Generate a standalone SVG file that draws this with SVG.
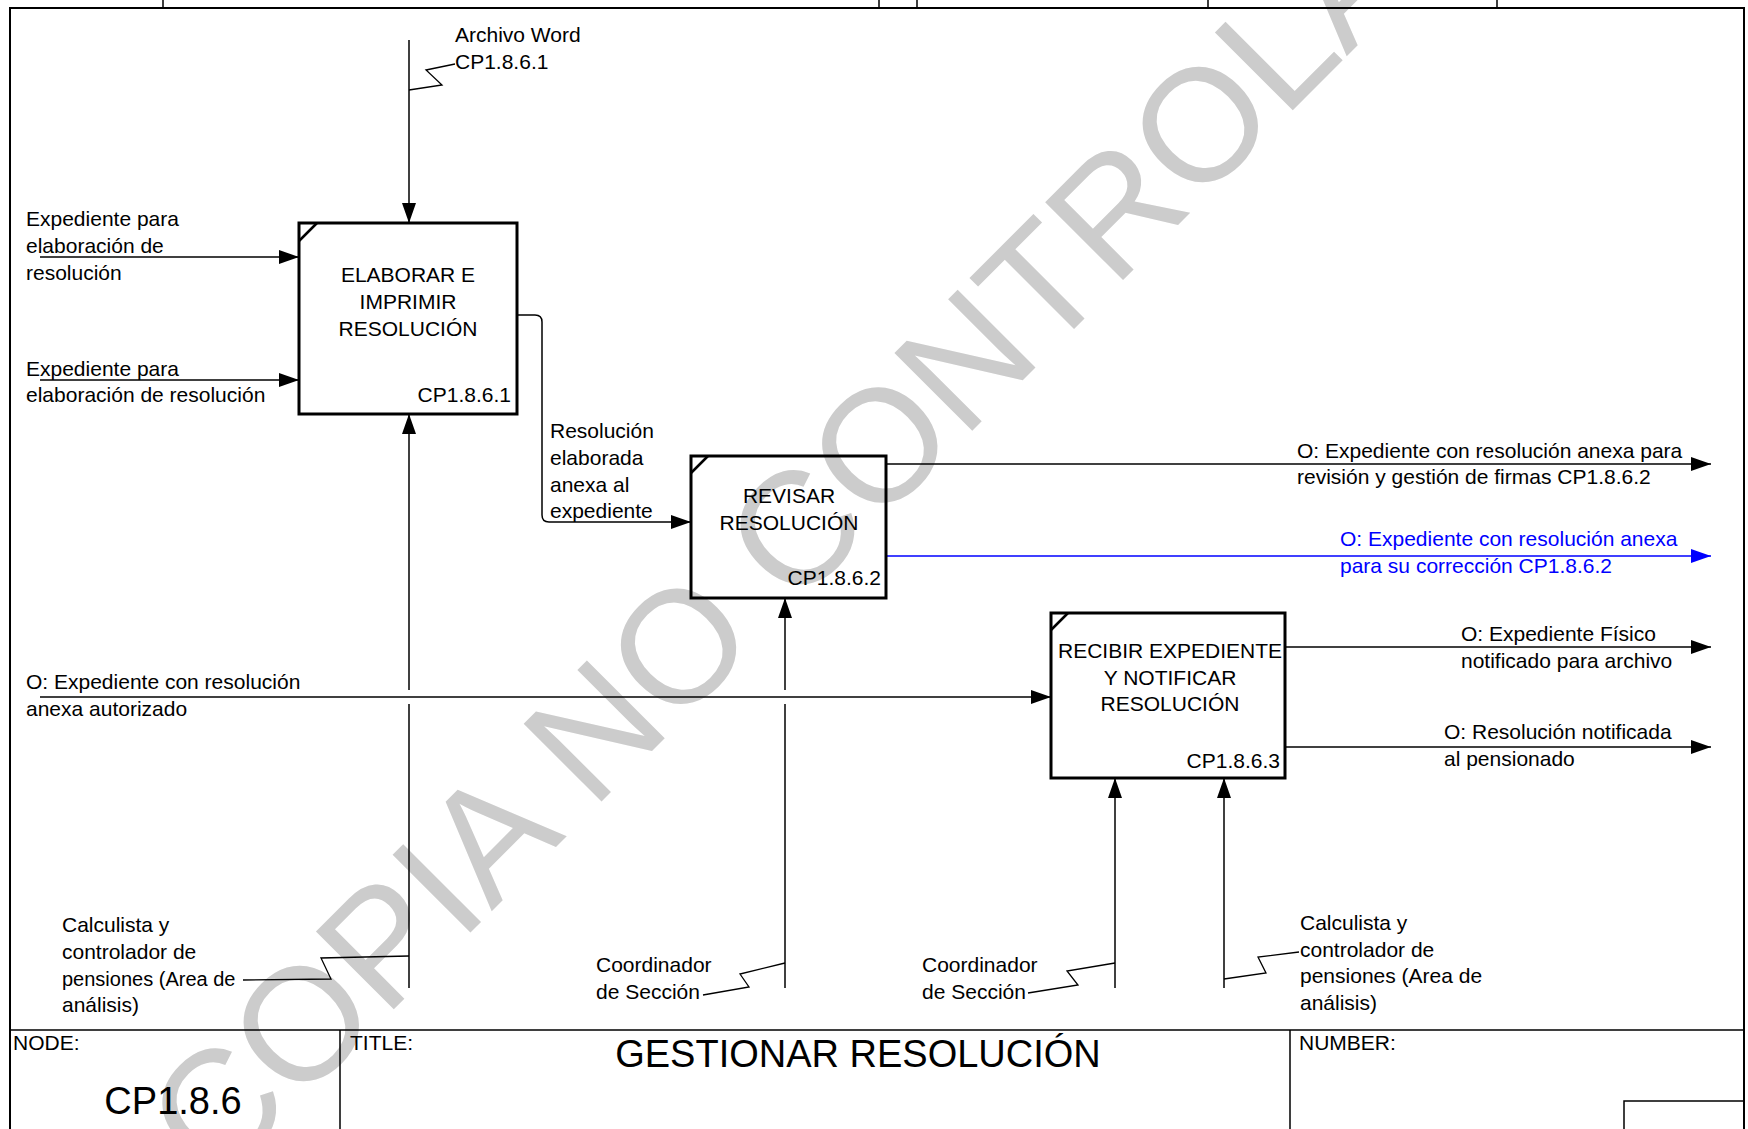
<svg xmlns="http://www.w3.org/2000/svg" width="1748" height="1129" viewBox="0 0 1748 1129">
<style>
text{font-family:"Liberation Sans",Arial,sans-serif;font-size:21px;fill:#000}
.c{text-anchor:middle}
.r{text-anchor:end}
.blue{fill:#0000ff}
.box{fill:none;stroke:#000;stroke-width:3}
.ln{fill:none;stroke:#000;stroke-width:1.5}
.bl{fill:none;stroke:#0000ff;stroke-width:1.5}
.sq{fill:none;stroke:#000;stroke-width:1.3}
.frame{fill:none;stroke:#000;stroke-width:2}
.wm{font-size:160px;fill:#cccccc}
</style>
<defs>
<marker id="ah" viewBox="0 0 20 14" refX="20" refY="7" markerWidth="20" markerHeight="14" orient="auto" markerUnits="userSpaceOnUse"><path d="M0,0 L20,7 L0,14 z" fill="#000"/></marker>
<marker id="ahb" viewBox="0 0 20 14" refX="20" refY="7" markerWidth="20" markerHeight="14" orient="auto" markerUnits="userSpaceOnUse"><path d="M0,0 L20,7 L0,14 z" fill="#0000ff"/></marker>
</defs>
<rect width="1748" height="1129" fill="#fff"/>
<text class="wm c" transform="translate(897,506) rotate(-45)">COPIA NO CONTROLADA</text>

<g id="frame">
<path class="frame" d="M10,1129 V8 H1744 V1129"/>
<path class="ln" d="M163,0 V8 M879,0 V8 M917,0 V8 M1208,0 V8 M1497,0 V8"/>
<path class="ln" d="M10,1030 H1744 M340,1030 V1129 M1290,1030 V1129 M1624,1129 V1101 H1744"/>
<text x="13" y="1050">NODE:</text>
<text x="350" y="1050">TITLE:</text>
<text x="1299" y="1050">NUMBER:</text>
<text x="173" y="1114" class="c" style="font-size:38px">CP1.8.6</text>
<text x="858" y="1067" class="c" style="font-size:38px">GESTIONAR RESOLUCIÓN</text>
</g>

<g id="connectors">
<path class="ln" d="M409,40 V223" marker-end="url(#ah)"/>
<path class="sq" d="M409,90 L442,85 L426,70 L455,64"/>
<path class="ln" d="M40,257 H299" marker-end="url(#ah)"/>
<path class="ln" d="M40,380 H299" marker-end="url(#ah)"/>
<path class="ln" d="M517,315 H535 Q542,315 542,322 V515 Q542,522 549,522 H691" marker-end="url(#ah)"/>
<path class="ln" d="M886,464 H1711" marker-end="url(#ah)"/>
<path class="bl" d="M886,556 H1711" marker-end="url(#ahb)"/>
<path class="ln" d="M40,697 H1051" marker-end="url(#ah)"/>
<path class="ln" d="M1285,647 H1711" marker-end="url(#ah)"/>
<path class="ln" d="M1285,747 H1711" marker-end="url(#ah)"/>
<path class="ln" d="M409,988 V704"/>
<path class="ln" d="M409,690 V414" marker-end="url(#ah)"/>
<path class="ln" d="M785,988 V704"/>
<path class="ln" d="M785,690 V598" marker-end="url(#ah)"/>
<path class="ln" d="M1115,988 V778" marker-end="url(#ah)"/>
<path class="ln" d="M1224,988 V778" marker-end="url(#ah)"/>
<path class="sq" d="M409,956 L321,958 L331,979 L243,980"/>
<path class="sq" d="M785,963 L740,974 L749,987 L703,995"/>
<path class="sq" d="M1115,963 L1067,971 L1078,985 L1028,993"/>
<path class="sq" d="M1224,979 L1266,973 L1258,957 L1299,952"/>
</g>

<g id="labels">
<text x="455" y="42">Archivo Word</text>
<text x="455" y="69">CP1.8.6.1</text>
<text x="26" y="226">Expediente para</text>
<text x="26" y="253">elaboración de</text>
<text x="26" y="280">resolución</text>
<text x="26" y="376">Expediente para</text>
<text x="26" y="402">elaboración de resolución</text>
<text x="550" y="438">Resolución</text>
<text x="550" y="465">elaborada</text>
<text x="550" y="492">anexa al</text>
<text x="550" y="518">expediente</text>
<text x="1297" y="458">O: Expediente con resolución anexa para</text>
<text x="1297" y="484">revisión y gestión de firmas CP1.8.6.2</text>
<text x="1340" y="546" class="blue">O: Expediente con resolución anexa</text>
<text x="1340" y="573" class="blue">para su corrección CP1.8.6.2</text>
<text x="1461" y="641">O: Expediente Físico</text>
<text x="1461" y="668">notificado para archivo</text>
<text x="1444" y="739">O: Resolución notificada</text>
<text x="1444" y="766">al pensionado</text>
<text x="26" y="689">O: Expediente con resolución</text>
<text x="26" y="716">anexa autorizado</text>
<text x="62" y="932">Calculista y</text>
<text x="62" y="959">controlador de</text>
<text x="62" y="986" style="font-size:20px">pensiones (Area de</text>
<text x="62" y="1012">análisis)</text>
<text x="596" y="972">Coordinador</text>
<text x="596" y="999">de Sección</text>
<text x="922" y="972">Coordinador</text>
<text x="922" y="999">de Sección</text>
<text x="1300" y="930">Calculista y</text>
<text x="1300" y="957">controlador de</text>
<text x="1300" y="983">pensiones (Area de</text>
<text x="1300" y="1010">análisis)</text>
</g>

<g id="node-CP1.8.6.1">
<rect class="box" x="299" y="223" width="218" height="191"/>
<path class="ln" d="M299,241 L317,223" style="stroke-width:2.5"/>
<text x="408" y="282" class="c">ELABORAR E</text>
<text x="408" y="309" class="c">IMPRIMIR</text>
<text x="408" y="336" class="c">RESOLUCIÓN</text>
<text x="511" y="402" class="r">CP1.8.6.1</text>
</g>

<g id="node-CP1.8.6.2">
<rect class="box" x="691" y="456" width="195" height="142"/>
<path class="ln" d="M691,473 L708,456" style="stroke-width:2.5"/>
<text x="789" y="503" class="c">REVISAR</text>
<text x="789" y="530" class="c">RESOLUCIÓN</text>
<text x="881" y="585" class="r">CP1.8.6.2</text>
</g>

<g id="node-CP1.8.6.3">
<rect class="box" x="1051" y="613" width="234" height="165"/>
<path class="ln" d="M1051,630 L1068,613" style="stroke-width:2.5"/>
<text x="1170" y="658" class="c">RECIBIR EXPEDIENTE</text>
<text x="1170" y="685" class="c">Y NOTIFICAR</text>
<text x="1170" y="711" class="c">RESOLUCIÓN</text>
<text x="1280" y="768" class="r">CP1.8.6.3</text>
</g>
</svg>
